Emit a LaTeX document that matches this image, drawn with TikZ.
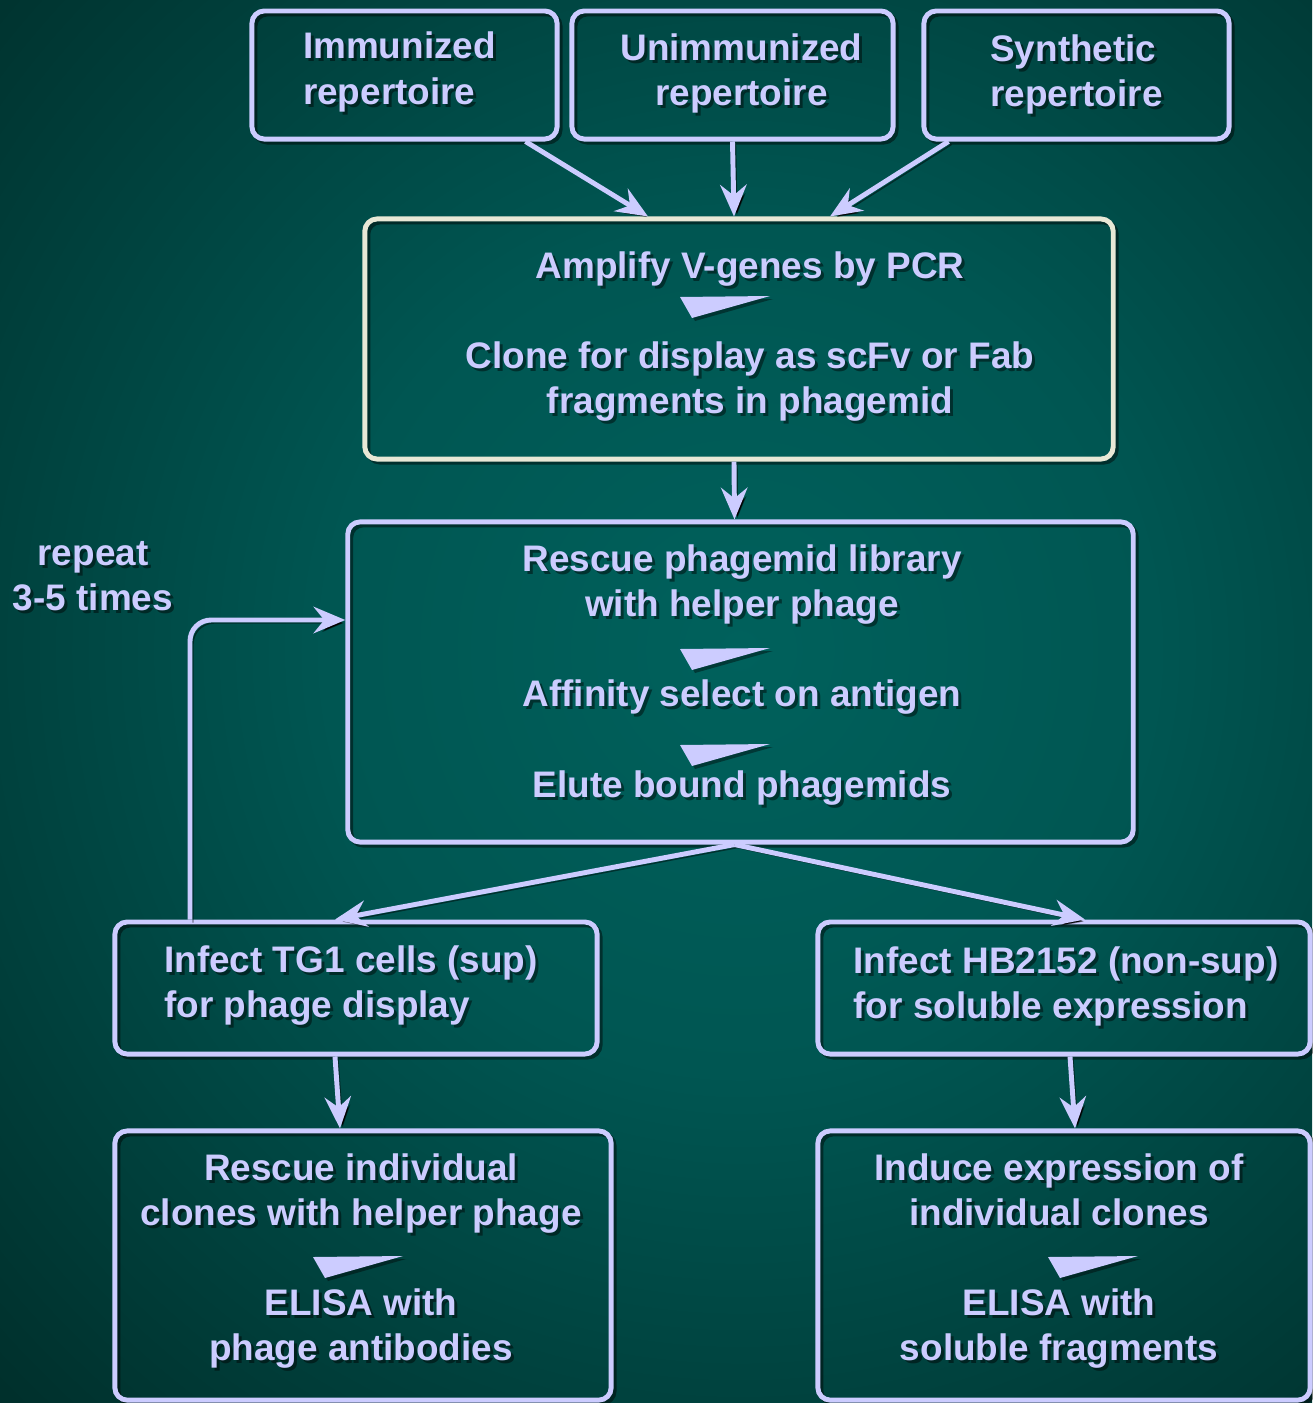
\documentclass[tikz,border=0pt]{standalone}
\usepackage{fontspec}
\setmainfont{Liberation Sans}
\usetikzlibrary{arrows.meta, positioning}
\definecolor{lav}{RGB}{204,204,255}
\definecolor{cream}{RGB}{232,232,214}
\definecolor{bgin}{RGB}{0,97,92}
\definecolor{bgmid}{RGB}{0,86,82}
\definecolor{bgdark}{RGB}{0,48,44}
\definecolor{bgout}{RGB}{0,20,20}
\pgfdeclareradialshading{bgglow}{\pgfpoint{0bp}{0bp}}{color(0bp)=(bgin); color(14bp)=(bgmid); color(35bp)=(bgdark); color(50bp)=(bgout)}
% text with a soft drop shadow
\newcommand\stagetext[3]{%
  \node[lbl, text=black, text opacity=.45] (#1sh) at ([shift={(3,3)}]#2) {#3};
  \node[lbl] (#1) at (#2) {#3};}

\begin{document}
\begin{tikzpicture}[
  x=0.01cm, y=-0.01cm,
  shadowed/.style={preaction={draw=black, draw opacity=.45,
                   transform canvas={shift={(3,3)}}}},
  frame/.style={draw=lav, line width=1.4pt, rounded corners=3.5pt,
                inner sep=0pt, shadowed},
  src/.style={frame, minimum width=3.05cm, minimum height=1.28cm},
  lbl/.style={text=lav, font=\fontsize{10.5}{12.8}\selectfont\bfseries,
              align=center, inner sep=0pt},
  flow/.style={draw=lav, line width=1.4pt,
               -{Stealth[length=9pt, width=7.5pt, inset=3pt]}, shadowed},
  septri/.pic={\fill[black, opacity=.4] (3,3) -- (93,2) -- (15,24) -- cycle;
               \fill[lav] (0,0) -- (90,-1) -- (12,21) -- cycle;}
]
\useasboundingbox (0,0) rectangle (1312,1403);
% background glow
\begin{scope}
  \clip (0,0) rectangle (1312,1403);
  \shade[shading=bgglow] (0,-103) rectangle (1480,1403);
\end{scope}
% antibody sources (top row)
\node[src] (imm) at (404.5,75) {};
\node[src, minimum width=3.21cm] (unimm) at (732.5,75) {};
\node[src] (synth) at (1076.5,75) {};
% library construction
\node[frame, draw=cream, minimum width=7.48cm, minimum height=2.40cm] (amp) at (739,339) {};
% panning rounds
\node[frame, minimum width=7.85cm, minimum height=3.20cm] (resc) at (740.5,682) {};
% two infection routes
\node[frame, minimum width=4.82cm, minimum height=1.32cm] (tg1) at (356,988) {};
\node[frame, minimum width=4.92cm, minimum height=1.32cm] (hb) at (1064,988) {};
% screening
\node[frame, minimum width=4.96cm, minimum height=2.69cm] (phscr) at (363,1265.5) {};
\node[frame, minimum width=4.92cm, minimum height=2.69cm] (solscr) at (1064,1265.5) {};
% box texts
\stagetext{immtx}{399.5,72.5}{\begin{tabular}{@{}l@{}}Immunized\\repertoire\end{tabular}}
\stagetext{unimmtx}{741.5,73}{Unimmunized\\repertoire}
\stagetext{synthtx}{1076.5,75}{\begin{tabular}{@{}l@{}}Synthetic\\repertoire\end{tabular}}
\stagetext{amptx}{750,337}{Amplify V-genes by PCR\\[12.8pt]Clone for display as scFv or Fab\\fragments in phagemid}
\stagetext{resctx}{742,675}{Rescue phagemid library\\with helper phage\\[12.8pt]Affinity select on antigen\\[12.8pt]Elute bound phagemids}
\stagetext{tgtx}{351,986}{\begin{tabular}{@{}l@{}}Infect TG1 cells (sup)\\for phage display\end{tabular}}
\stagetext{hbtx}{1066,987}{\begin{tabular}{@{}l@{}}Infect HB2152 (non-sup)\\for soluble expression\end{tabular}}
\stagetext{phtx}{361,1261}{Rescue individual\\clones with helper phage\\[12.8pt]ELISA with\\phage antibodies}
\stagetext{soltx}{1059,1261}{Induce expression of\\individual clones\\[12.8pt]ELISA with\\soluble fragments}
\stagetext{rep}{93,576}{repeat\\3-5 times}
% step wedges inside boxes
\pic at (680,297) {septri};
\pic at (680,649) {septri};
\pic at (680,745) {septri};
\pic at (313,1257) {septri};
\pic at (1048,1257) {septri};
% connectors
\draw[flow] ([shift={(121,0)}]imm.south) -- ([shift={(-91,0)}]amp.north);
\draw[flow] (unimm.south) -- ([shift={(-5,0)}]amp.north);
\draw[flow] ([shift={(-128,0)}]synth.south) -- ([shift={(91,0)}]amp.north);
\draw[flow] ([shift={(-5,0)}]amp.south) -- ([shift={(-6,0)}]resc.north);
\draw[flow] ([shift={(-6,0)}]resc.south) -- ([shift={(-21,0)}]tg1.north);
\draw[flow] ([shift={(-6,0)}]resc.south) -- ([shift={(21,0)}]hb.north);
\draw[flow] ([shift={(-21,0)}]tg1.south) -- ([shift={(-23,0)}]phscr.north);
\draw[flow] ([shift={(6,0)}]hb.south) -- ([shift={(11,0)}]solscr.north);
% repeat loop
\coordinate (loopin) at (190,620);
\draw[flow, rounded corners=6pt] (tg1.north -| loopin) |- (resc.west |- loopin);
\end{tikzpicture}
\end{document}
